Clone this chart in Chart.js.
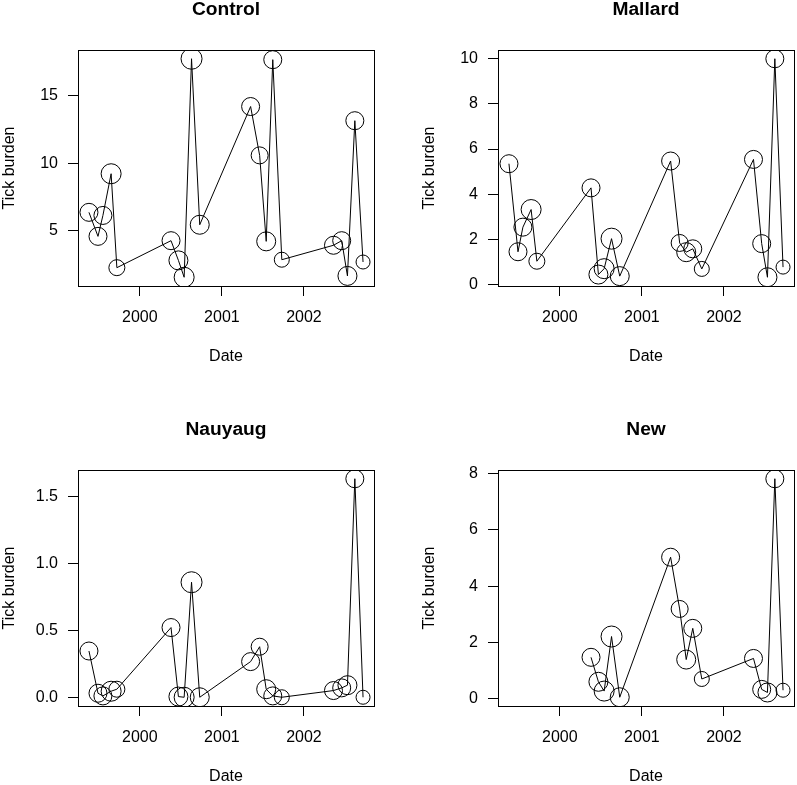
<!DOCTYPE html>
<html>
<head>
<meta charset="utf-8">
<script src="https://cdn.jsdelivr.net/npm/chart.js@4"></script>
<style>
  body { margin: 0; width: 797px; height: 785px; overflow: hidden; background: #fff; position: relative; }
  canvas { position: absolute; }
</style>
</head>
<body>
<canvas id="control" width="400" height="420" style="left:0;top:0"></canvas>
<canvas id="mallard" width="400" height="420" style="left:420px;top:0"></canvas>
<canvas id="nauyaug" width="400" height="420" style="left:0;top:420px"></canvas>
<canvas id="new" width="400" height="420" style="left:420px;top:420px"></canvas>
<script>
// SAMPLING DATES (decimal years)
const dates = [1999.38, 1999.49, 1999.55, 1999.65, 1999.72,
               2000.38, 2000.47, 2000.54, 2000.63, 2000.73,
               2001.35, 2001.46, 2001.54, 2001.62, 2001.73,
               2002.36, 2002.46, 2002.53, 2002.62, 2002.72];

// TICK BURDEN PER SITE
const controlBurden = [6.36, 4.58, 6.13, 9.22, 2.26, 4.26, 2.8, 1.55, 17.74, 5.44,
                       14.2, 10.58, 4.21, 17.67, 2.85, 3.92, 4.26, 1.65, 13.15, 2.68];
const mallardBurden = [5.35, 1.45, 2.54, 3.32, 1.03, 4.28, 0.44, 0.7, 2.03, 0.37,
                       5.47, 1.84, 1.43, 1.58, 0.69, 5.54, 1.81, 0.32, 10.0, 0.77];
const nauyaugBurden = [0.345, 0.03, 0.01, 0.045, 0.06, 0.52, 0.005, 0.0, 0.858, 0.0,
                       0.266, 0.377, 0.06, 0.01, 0.0, 0.05, 0.07, 0.09, 1.63, 0.0];
const newBurden = [null, null, null, null, null, 1.47, 0.6, 0.27, 2.21, 0.05,
                   5.03, 3.19, 1.39, 2.5, 0.7, 1.43, 0.33, 0.22, 7.82, 0.3];

// circle size for each sampling date
const pointRadii = [9, 9, 9, 10, 8, 9, 9.5, 10, 10.5, 9.5, 9, 8.5, 9.5, 9, 7.5, 9, 9, 9.5, 9, 7];

// TICK LABELS
const xTicks = [2000, 2001, 2002];
const controlTicks = [5, 10, 15];
const mallardTicks = [0, 2, 4, 6, 8, 10];
const nauyaugTicks = [0, 0.5, 1, 1.5];
const newTicks = [0, 2, 4, 6, 8];

Chart.defaults.font.family = "'Liberation Sans', Arial, Helvetica, sans-serif";
Chart.defaults.font.size = 16;
Chart.defaults.color = '#000';

// R style range: data range plus 4% on each side
function padRange(values) {
  const v = values.filter(x => x !== null);
  const lo = Math.min(...v), hi = Math.max(...v);
  const pad = (hi - lo) * 0.04;
  return [lo - pad, hi + pad];
}

const boxPlugin = {
  id: 'box',
  afterDraw(chart) {
    const { ctx, chartArea: a } = chart;
    ctx.save();
    ctx.strokeStyle = '#000';
    ctx.lineWidth = 1;
    ctx.strokeRect(Math.round(a.left) + 0.5, Math.round(a.top) + 0.5,
                   Math.round(a.width), Math.round(a.height));
    ctx.restore();
  }
};

const tickGrid = { drawOnChartArea: false, drawTicks: true, tickLength: 10, color: '#000', lineWidth: 1 };

function drawPanel(id, title, values, yTicks, decimals) {
  const [xMin, xMax] = padRange(dates);
  const [yMin, yMax] = padRange(values);

  new Chart(document.getElementById(id), {
    type: 'line',
    data: {
      datasets: [{
        data: dates.map((d, i) => ({ x: d, y: values[i] })),
        borderColor: '#000',
        borderWidth: 1,
        tension: 0,
        pointRadius: pointRadii,
        pointBorderColor: '#000',
        pointBackgroundColor: 'rgba(0,0,0,0)',
        pointBorderWidth: 1
      }]
    },
    options: {
      responsive: false,
      animation: false,
      devicePixelRatio: 1,
      layout: { padding: { left: 0, right: 26, top: 0, bottom: 54 } },
      plugins: {
        legend: { display: false },
        tooltip: { enabled: false },
        title: {
          display: true,
          text: title,
          fullSize: false,
          font: { size: 19.2, weight: 'bold', lineHeight: 1 },
          padding: { top: 0.5, bottom: 30.3 }
        }
      },
      scales: {
        x: {
          type: 'linear',
          min: xMin,
          max: xMax,
          afterBuildTicks: s => { s.ticks = xTicks.map(v => ({ value: v })); },
          afterFit: s => { s.height = 80; },
          grid: tickGrid,
          border: { display: false },
          ticks: { padding: 12, maxRotation: 0, autoSkip: false, callback: v => String(v) },
          title: { display: true, text: 'Date', padding: 0 }
        },
        y: {
          min: yMin,
          max: yMax,
          afterBuildTicks: s => { s.ticks = yTicks.map(v => ({ value: v })); },
          afterFit: s => { s.width = 78; },
          grid: tickGrid,
          border: { display: false },
          ticks: { padding: 10, autoSkip: false, callback: v => v.toFixed(decimals) },
          title: { display: true, text: 'Tick burden', padding: 0 }
        }
      }
    },
    plugins: [boxPlugin]
  });
}

drawPanel('control', 'Control', controlBurden, controlTicks, 0);
drawPanel('mallard', 'Mallard', mallardBurden, mallardTicks, 0);
drawPanel('nauyaug', 'Nauyaug', nauyaugBurden, nauyaugTicks, 1);
drawPanel('new', 'New', newBurden, newTicks, 0);
</script>
</body>
</html>
